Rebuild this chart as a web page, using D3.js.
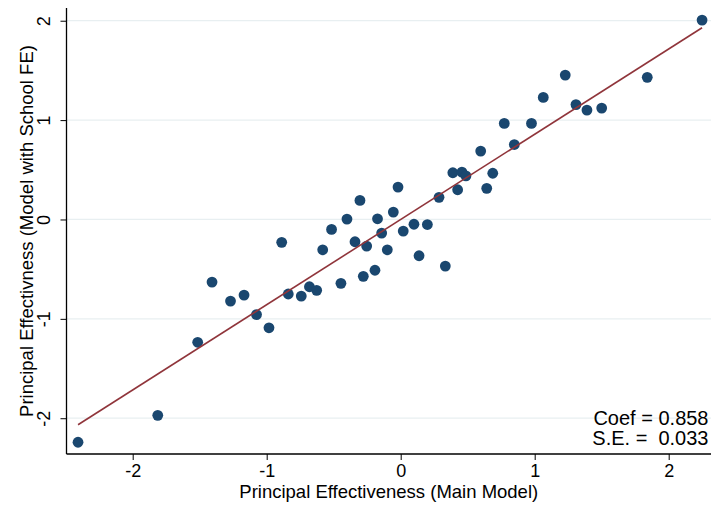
<!DOCTYPE html>
<html>
<head>
<meta charset="utf-8">
<script src="https://cdn.jsdelivr.net/npm/d3@7"></script>
<style>
  html, body { margin: 0; padding: 0; background: #fff; }
  svg { display: block; font-family: "Liberation Sans", Arial, sans-serif; }
</style>
</head>
<body>
<svg id="chart" width="712" height="506"></svg>
<script>
// Principal effectiveness estimates: main model (x) vs. model with school fixed effects (y)
const mainModel = [
  -2.408, -1.813, -1.515, -1.408, -1.270, -1.169, -1.076, -0.983, -0.888, -0.839,
  -0.742, -0.681, -0.627, -0.582, -0.516, -0.446, -0.401, -0.341, -0.304, -0.279,
  -0.254, -0.192, -0.173, -0.142, -0.100, -0.055, -0.020,  0.019,  0.099,  0.137,
   0.199,  0.286,  0.333,  0.389,  0.425,  0.457,  0.487,  0.597,  0.642,  0.687,
   0.773,  0.848,  0.976,  1.064,  1.228,  1.308,  1.390,  1.500,  1.840,  2.249
];
const schoolFE = [
  -2.242, -1.971, -1.236, -0.630, -0.821, -0.761, -0.957, -1.090, -0.230, -0.750,
  -0.771, -0.677, -0.713, -0.305, -0.100, -0.643,  0.004, -0.224,  0.192, -0.572,
  -0.268, -0.511,  0.007, -0.137, -0.305,  0.074,  0.326, -0.117, -0.048, -0.365,
  -0.051,  0.223, -0.469,  0.470,  0.299,  0.477,  0.439,  0.688,  0.313,  0.465,
   0.967,  0.754,  0.967,  1.228,  1.453,  1.156,  1.101,  1.121,  1.430,  2.006
];
const xTicks = [-2, -1, 0, 1, 2];
const yTicks = [-2, -1, 0, 1, 2];
const fitCoef = 0.858;
const fitSE = 0.033;
const fitIntercept = 0.0;

const xTitle = "Principal Effectiveness (Main Model)";
const yTitle = "Principal Effectivness (Model with School FE)";

const svg = d3.select("#chart");
const plotL = 66.5, plotR = 711, plotT = 8, plotB = 454;

const x = d3.scaleLinear().domain([-2.494, 2.3157]).range([plotL, plotR]);
const y = d3.scaleLinear().domain([-2.36, 2.128]).range([plotB, plotT]);

// plain hyphen-minus tick labels
const tickFmt = d => String(d);

// horizontal grid lines
svg.append("g").selectAll("line").data(yTicks).join("line")
  .attr("x1", plotL).attr("x2", plotR)
  .attr("y1", d => y(d)).attr("y2", d => y(d))
  .attr("stroke", "#e8eff1").attr("stroke-width", 1.2);

// axes
const xAxis = d3.axisBottom(x).tickValues(xTicks).tickSize(6).tickPadding(4).tickFormat(tickFmt);
const gx = svg.append("g").attr("transform", `translate(0,${plotB})`).call(xAxis);
gx.select(".domain").attr("d", `M${plotL},0H${plotR}`).attr("stroke", "#000").attr("stroke-width", 1.3);
gx.selectAll(".tick line").attr("stroke", "#000").attr("stroke-width", 1);
gx.selectAll(".tick text").attr("font-size", 18).attr("fill", "#000")
  .attr("font-family", "Liberation Sans, Arial, sans-serif").attr("dy", "0.71em");

const yAxis = d3.axisLeft(y).tickValues(yTicks).tickSize(6).tickFormat(tickFmt);
const gy = svg.append("g").attr("transform", `translate(${plotL},0)`).call(yAxis);
gy.select(".domain").attr("d", `M0,${plotT}V${plotB}`).attr("stroke", "#000").attr("stroke-width", 1.3);
gy.selectAll(".tick line").attr("stroke", "#000").attr("stroke-width", 1);
gy.selectAll(".tick text")
  .attr("font-size", 18).attr("fill", "#000")
  .attr("font-family", "Liberation Sans, Arial, sans-serif")
  .attr("x", null).attr("dy", null)
  .attr("text-anchor", "middle")
  .attr("transform", "translate(-16.5,0) rotate(-90)");

// scatter points
svg.append("g").selectAll("circle").data(mainModel.map((v, i) => [v, schoolFE[i]])).join("circle")
  .attr("cx", d => x(d[0])).attr("cy", d => y(d[1]))
  .attr("r", 5.4).attr("fill", "#1a476f");

// linear fit line
const xr = d3.extent(mainModel);
svg.append("line")
  .attr("x1", x(xr[0])).attr("y1", y(fitIntercept + fitCoef * xr[0]))
  .attr("x2", x(xr[1])).attr("y2", y(fitIntercept + fitCoef * xr[1]))
  .attr("stroke", "#90353b").attr("stroke-width", 1.6);

// axis titles
svg.append("text").attr("x", (plotL + plotR) / 2).attr("y", 497.5)
  .attr("text-anchor", "middle").attr("font-size", 18.5).text(xTitle);
svg.append("text").attr("transform", `translate(33,${(plotT + plotB) / 2}) rotate(-90)`)
  .attr("text-anchor", "middle").attr("font-size", 18.5).text(yTitle);

// regression annotation
const fmt = d3.format(".3f");
svg.append("text").attr("x", 708.5).attr("y", 425).attr("text-anchor", "end")
  .attr("font-size", 20).text(`Coef = ${fmt(fitCoef)}`);
svg.append("text").attr("x", 708.5).attr("y", 445).attr("text-anchor", "end")
  .attr("font-size", 20).attr("xml:space", "preserve").style("white-space", "pre")
  .text(`S.E. =  ${fmt(fitSE)}`);
</script>
</body>
</html>
